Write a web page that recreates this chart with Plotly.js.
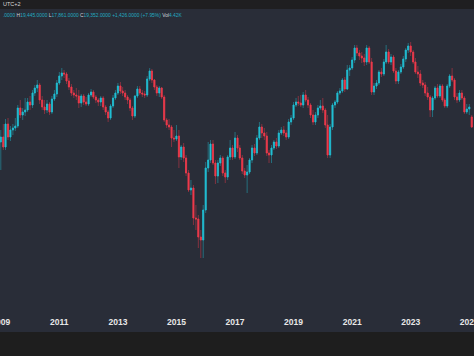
<!DOCTYPE html>
<html>
<head>
<meta charset="utf-8">
<script src="https://cdn.plot.ly/plotly-3.0.1.min.js"></script>
<style>
html,body{margin:0;padding:0;background:#1e1e1e;}
#chart{width:474px;height:356px;}
</style>
</head>
<body>
<div id="chart"></div>
<script>
// Monthly candles, first month Jan 2009
const firstYear = 2009;
const openP = [18080,18380,17780,19160,18380,18800,18920,19040,20120,19700,19880,20000,20480,20300,21020,21320,21500,20600,20180,20000,20360,19880,20660,20960,21620,22040,22220,22160,21740,21380,21020,20900,20840,20420,20840,20480,20360,20900,21080,20780,20600,20480,20720,20180,19880,19520,20240,20720,21020,21440,21140,21020,20780,20600,20120,19640,20840,21260,21020,20960,20900,21860,22340,21800,21380,21020,21320,20780,19400,19100,18980,18320,18260,18440,17180,17780,17120,16220,15200,15320,13520,13460,12380,12200,14000,16520,17000,17960,16820,16040,16820,17120,16220,15980,17180,17720,17180,18320,17720,17120,16340,16100,16280,17000,17720,17420,18320,18980,18620,18440,17420,17300,17720,18080,17840,18620,18800,18620,18380,19280,19520,20300,20480,20420,20300,20900,20600,20300,19700,19280,19700,20120,20240,20000,19100,17300,18980,20300,20480,21020,21140,21800,21260,22400,22520,23000,23720,23420,23240,23120,22880,23720,22880,21080,21440,21620,22280,22160,22880,23480,22880,23180,22340,21740,22280,22580,23060,23600,23840,23480,22880,22280,22160,21620,21500,21020,20780,20000,20720,21320,20840,21440,20600,20240,21440,22040,21800,20780,20600,21020,20720,19880,20060,19580];
const highP = [18800,19160,19460,19520,19040,19160,19520,20300,20600,20120,20720,20720,20840,21200,21500,21800,21620,20840,20600,20600,20480,20840,21200,21800,22280,22520,22400,22280,21920,21560,21200,21320,21200,20960,20960,20780,21020,21260,21200,20900,20720,20840,20840,20300,20000,20360,20900,21200,21620,21680,21380,21200,20900,20720,20240,20900,21440,21440,21200,21140,22040,22520,22460,21860,21500,21440,21380,20900,19520,19460,19100,18800,19100,18800,17900,18020,17300,16400,15800,15500,14300,13700,12800,14300,16880,18080,18200,18200,17000,17000,17300,17240,16400,17300,18200,17900,18680,18500,17900,17300,16520,16700,17120,17900,17960,18500,19280,19160,18920,18680,17600,17900,18200,18320,18800,18980,19040,18800,19460,19700,20480,20720,20840,20900,21080,21200,20780,20420,20000,19880,20300,20600,20720,20120,19700,19160,20420,20600,21140,21320,21920,21980,22700,22700,23180,23900,23900,23600,23480,23360,23900,23840,23120,21620,21800,22400,22520,23060,23900,23660,23360,23300,22520,22400,22760,23240,23720,24020,24080,23600,23120,22640,22400,21800,21680,21380,20900,20840,21440,21560,21560,21560,20720,21560,22160,22520,21920,21020,21200,21200,20840,20360,20360,19700];
const lowP = [16400,17600,17600,18200,18140,18500,18740,18920,19520,19400,19640,19880,20000,20120,20840,21080,20360,20000,19760,19820,19700,19760,20540,20780,21500,21800,21920,21560,21200,20840,20720,20600,20120,20180,20300,20240,20240,20780,20660,20420,20240,20240,20000,19700,19280,19400,20120,20600,20900,20960,20840,20600,20360,19940,19400,19520,20720,20900,20780,20720,20780,21740,21620,21200,20840,20780,20660,19280,18920,18800,17780,18080,18140,16520,17000,16880,16040,15080,14900,13100,12800,11720,11120,11120,13820,16280,16820,16700,15560,15620,16640,16040,15620,15800,17000,17000,17060,17480,17000,16160,15920,15020,16160,16820,17240,17300,18200,18320,18200,17240,16820,16820,17600,17660,17720,18500,18440,18200,18260,19100,19400,20180,20240,20180,20120,20480,20120,19520,19100,19100,19520,20000,19820,18920,17120,17120,18800,20120,20360,20900,21020,21080,21200,22040,22400,22820,23240,23000,22820,22640,22700,22760,20900,20900,21260,21500,21980,22040,22760,22760,22700,22220,21560,21560,22160,22460,22880,23420,23240,22760,22160,21920,21440,21320,20840,20600,19580,19580,20600,20720,20720,20480,20120,20120,21320,21680,20600,20420,20480,20600,19760,19760,19700,18920];
const closeP = [18380,17780,19160,18380,18800,18920,19040,20120,19700,19880,20000,20480,20300,21020,21320,21500,20600,20180,20000,20360,19880,20660,20960,21620,22040,22220,22160,21740,21380,21020,20900,20840,20420,20840,20480,20360,20900,21080,20780,20600,20480,20720,20180,19880,19520,20240,20720,21020,21440,21140,21020,20780,20600,20120,19640,20840,21260,21020,20960,20900,21860,22340,21800,21380,21020,21320,20780,19400,19100,18980,18320,18260,18440,17180,17780,17120,16220,15200,15320,13520,13460,12380,12200,14000,16520,17000,17960,16820,16040,16820,17120,16220,15980,17180,17720,17180,18320,17720,17120,16340,16100,16280,17000,17720,17420,18320,18980,18620,18440,17420,17300,17720,18080,17840,18620,18800,18620,18380,19280,19520,20300,20480,20420,20300,20900,20600,20300,19700,19280,19700,20120,20240,20000,19100,17300,18980,20300,20480,21020,21140,21800,21260,22400,22520,23000,23720,23420,23240,23120,22880,23720,22880,21080,21440,21620,22280,22160,22880,23480,22880,23180,22340,21740,22280,22580,23060,23600,23840,23480,22880,22280,22160,21620,21500,21020,20780,20000,20720,21320,20840,21440,20600,20240,21440,22040,21800,20780,20600,21020,20720,19880,20060,20180,18980];
const xTickLabels = ['2009','2011','2013','2015','2017','2019','2021','2023','2025'];

const months = [];
for (let i = 0; i < openP.length; i++) {
  const yr = firstYear + Math.floor(i / 12), mo = (i % 12) + 1;
  months.push(yr + '-' + String(mo).padStart(2, '0') + '-01');
}
const bodyHigh = openP.map((o, i) => Math.max(o, closeP[i]));
const bodyLow = openP.map((o, i) => Math.min(o, closeP[i]));

const UP = '#22bfd3', DOWN = '#ef3a4c';
const wicks = {
  type: 'candlestick', x: months, open: openP, high: highP, low: lowP, close: closeP,
  increasing: {line: {color: 'rgba(34,191,211,0.45)', width: 1}, fillcolor: 'rgba(34,191,211,0.45)'},
  decreasing: {line: {color: 'rgba(239,58,76,0.45)', width: 1}, fillcolor: 'rgba(239,58,76,0.45)'},
  hoverinfo: 'skip', showlegend: false
};
const bodies = {
  type: 'candlestick', x: months, open: openP, high: bodyHigh, low: bodyLow, close: closeP,
  increasing: {line: {color: UP, width: 0.6}, fillcolor: UP},
  decreasing: {line: {color: DOWN, width: 0.6}, fillcolor: DOWN},
  showlegend: false
};

const plotH = 356 - 9 - 44;
const hdr = '<span style="color:#22abc0">.0000</span> ' +
  '<span style="color:#d1d4dc">H</span><span style="color:#22abc0">19,445.0000</span> ' +
  '<span style="color:#d1d4dc">L</span><span style="color:#22abc0">17,861.0000</span> ' +
  '<span style="color:#d1d4dc">C</span><span style="color:#22abc0">19,352.0000</span> ' +
  '<span style="color:#22abc0">+1,426.0000 (+7.95%)</span> ' +
  '<span style="color:#d1d4dc">Vol</span><span style="color:#22abc0">4.42K</span>';

const layout = {
  width: 474, height: 356,
  margin: {l: 0, r: 0, t: 9, b: 44, pad: 0},
  paper_bgcolor: '#292d38', plot_bgcolor: '#292d38',
  showlegend: false,
  xaxis: {
    type: 'date', range: ['2008-12-22', '2025-03-01'],
    rangeslider: {visible: false},
    showgrid: false, zeroline: false, showline: false, ticks: '',
    tickmode: 'array',
    tickvals: xTickLabels.map(y => y + '-01-01'),
    ticktext: xTickLabels,
    ticklabeloverflow: 'allow',
    tickfont: {family: 'Liberation Sans, Arial, sans-serif', size: 8.5, color: '#e8e8e8', weight: 'bold'},
    ticklabelstandoff: 3
  },
  yaxis: {
    range: [7880, 26060], visible: false, showgrid: false, zeroline: false, fixedrange: true
  },
  shapes: [
    {type: 'rect', xref: 'paper', yref: 'paper', x0: -0.01, x1: 1.01, y0: 1, y1: 1 + 9 / plotH + 0.01,
     fillcolor: '#1f1f21', line: {width: 0}, layer: 'above'},
    {type: 'rect', xref: 'paper', yref: 'paper', x0: -0.01, x1: 1.01, y0: -20 / plotH, y1: -44 / plotH - 0.01,
     fillcolor: '#1e1e1e', line: {width: 0}, layer: 'below'}
  ],
  annotations: [
    {xref: 'paper', yref: 'paper', x: 1 / 474, y: 1 + 4.5 / plotH, xanchor: 'left', yanchor: 'middle',
     text: 'UTC+2', showarrow: false, font: {family: 'Liberation Sans, Arial, sans-serif', size: 5.5, color: '#d8d8d8'}},
    {xref: 'paper', yref: 'paper', x: 0.5 / 474, y: 1 - 7 / plotH, xanchor: 'left', yanchor: 'middle',
     text: hdr, showarrow: false, font: {family: 'Liberation Sans, Arial, sans-serif', size: 4.9, color: '#d1d4dc'}}
  ]
};

Plotly.newPlot('chart', [wicks, bodies], layout, {staticPlot: true, displayModeBar: false});
</script>
</body>
</html>
